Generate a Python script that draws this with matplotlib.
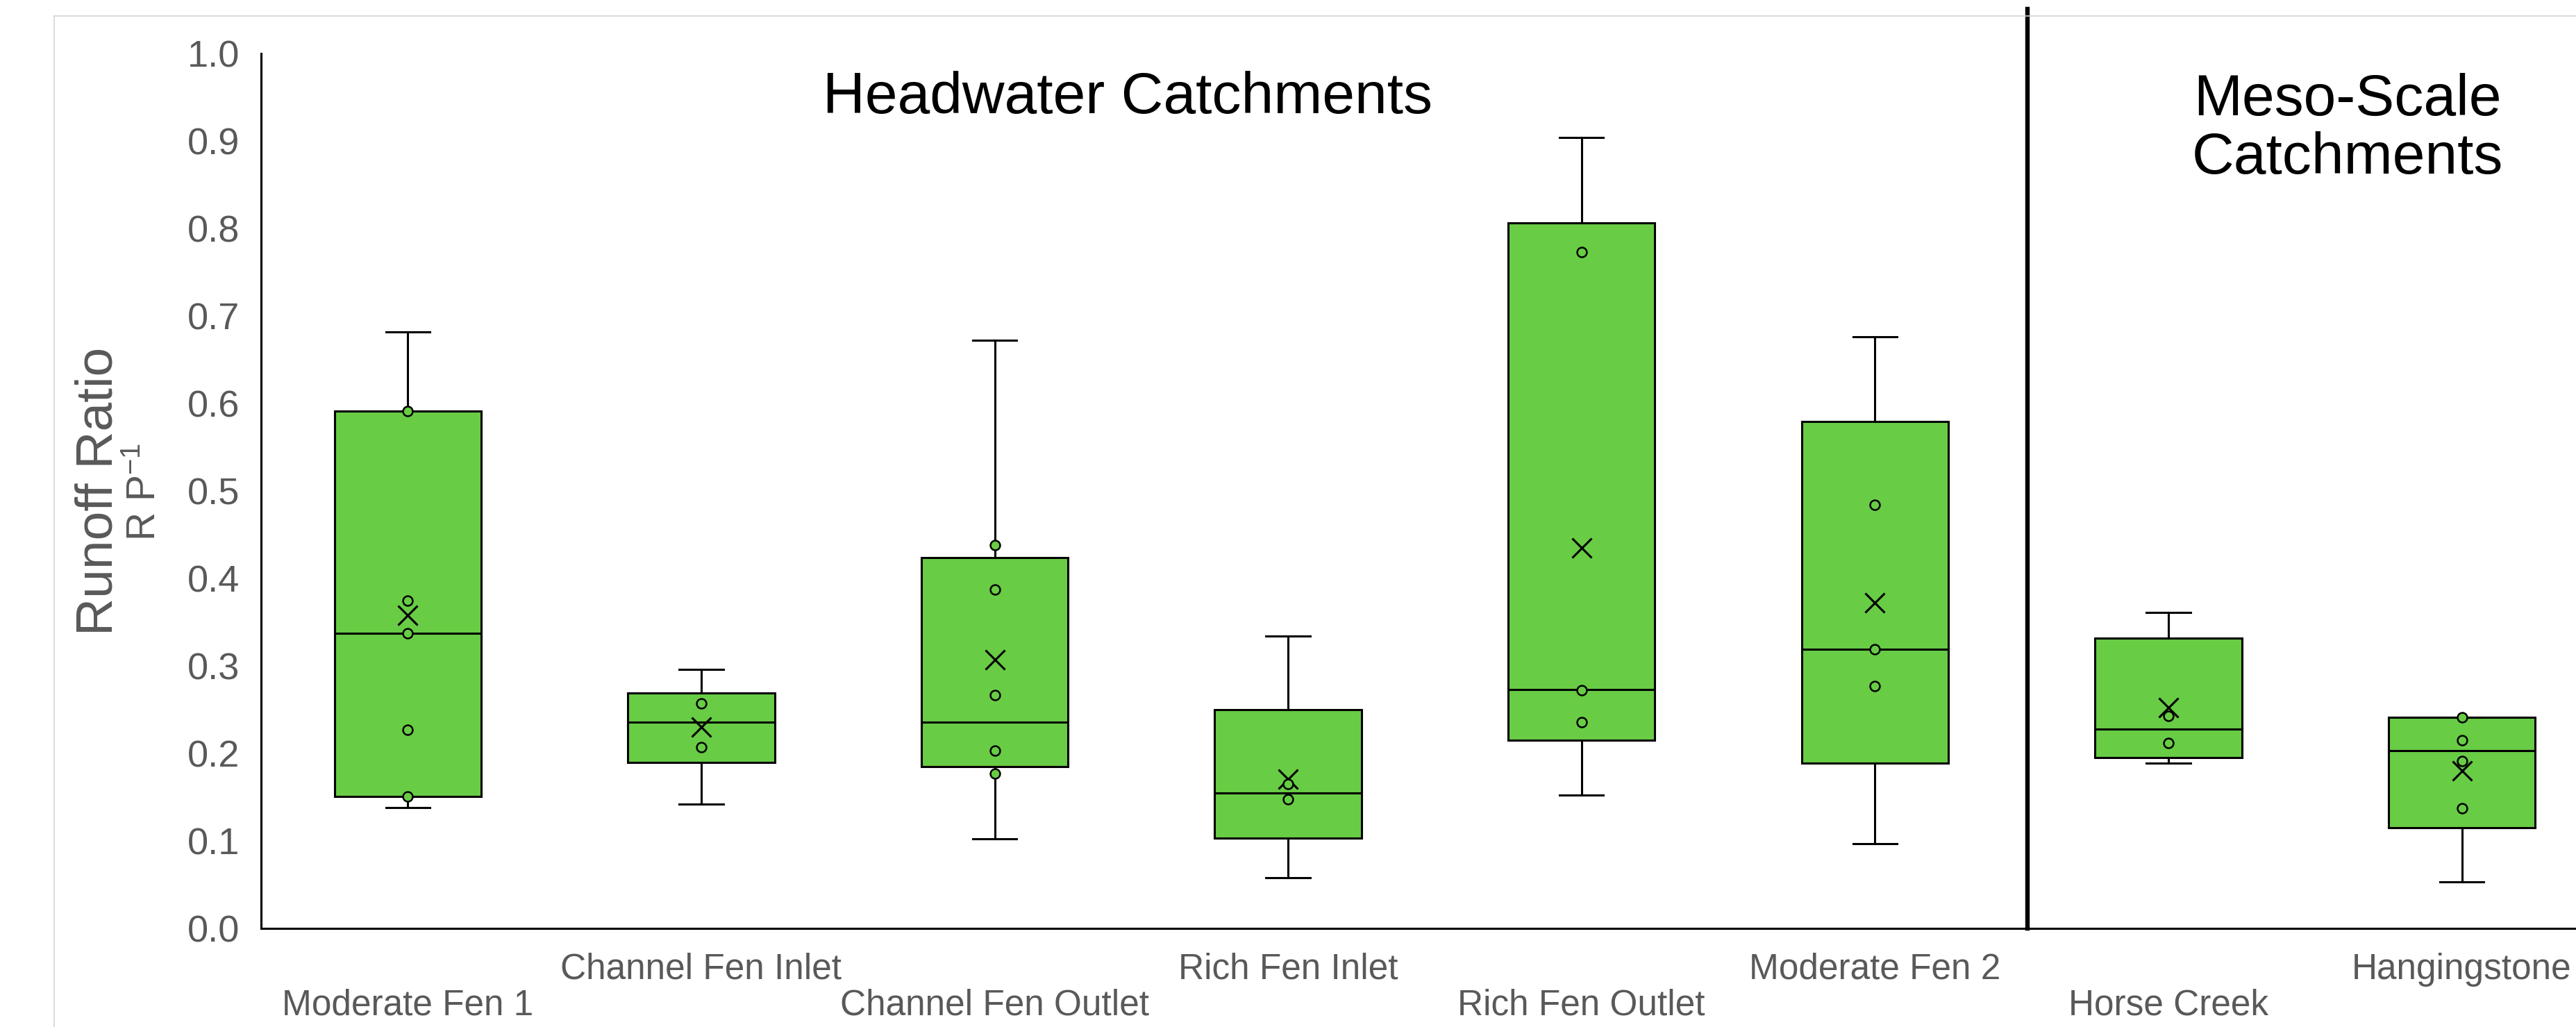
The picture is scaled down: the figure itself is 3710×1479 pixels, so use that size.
#!/usr/bin/env python3
from __future__ import annotations

import matplotlib

matplotlib.use("Agg", force=True)
import matplotlib.pyplot as plt
import numpy as np
from matplotlib.lines import Line2D


CATEGORIES = [
    "Moderate Fen 1",
    "Channel Fen Inlet",
    "Channel Fen Outlet",
    "Rich Fen Inlet",
    "Rich Fen Outlet",
    "Moderate Fen 2",
    "Horse Creek",
    "Hangingstone",
]

# box statistics (runoff ratio, R P^-1)
WHISKER_LO = [0.138, 0.142, 0.102, 0.058, 0.152, 0.097, 0.189, 0.053]
Q1 = [0.151, 0.190, 0.185, 0.103, 0.215, 0.189, 0.195, 0.115]
MEDIAN = [0.337, 0.236, 0.236, 0.155, 0.273, 0.319, 0.228, 0.203]
Q3 = [0.591, 0.269, 0.424, 0.250, 0.806, 0.579, 0.332, 0.241]
WHISKER_HI = [0.682, 0.296, 0.672, 0.334, 0.904, 0.676, 0.361, 0.241]
MEANS = [0.358, 0.230, 0.307, 0.171, 0.435, 0.372, 0.252, 0.180]

# inner points shown on each box
POINTS = [
    [0.591, 0.375, 0.337, 0.227, 0.151],
    [0.257, 0.207],
    [0.438, 0.387, 0.267, 0.203, 0.177],
    [0.165, 0.148],
    [0.773, 0.272, 0.236],
    [0.484, 0.319, 0.277],
    [0.243, 0.212],
    [0.241, 0.215, 0.191, 0.137],
]

Y_TICKS = [0.0, 0.1, 0.2, 0.3, 0.4, 0.5, 0.6, 0.7, 0.8, 0.9, 1.0]
DIVIDER_X = 5.52

GREEN = "#68cc45"
GREY_TEXT = "#595959"
FONT = "Liberation Sans"

W_PX, H_PX = 3710, 1479


def px(x: float, y: float) -> tuple[float, float]:
    # pixel position (from top-left) -> figure fraction
    return x / W_PX, 1 - y / H_PX


def main() -> None:
    plt.rcParams["font.family"] = [FONT, "DejaVu Sans"]
    plt.rcParams["mathtext.fontset"] = "custom"
    plt.rcParams["mathtext.rm"] = FONT
    plt.rcParams["mathtext.default"] = "regular"

    fig = plt.figure(figsize=(W_PX / 100, H_PX / 100), dpi=100)
    fig.patch.set_facecolor("white")

    # axes: y=0 at 1337px, y=1 at 77px, category spacing 422.6px
    left, bottom = px(376, 1337)
    ax = fig.add_axes([left, bottom, 8 * 422.6 / W_PX, (1337 - 77) / H_PX])

    stats = []
    for i in range(len(CATEGORIES)):
        stats.append(
            dict(
                whislo=WHISKER_LO[i],
                q1=Q1[i],
                med=MEDIAN[i],
                q3=Q3[i],
                whishi=WHISKER_HI[i],
                mean=MEANS[i],
                fliers=[],
            )
        )
    pos = np.arange(len(CATEGORIES))
    lw = 2.2
    ax.bxp(
        stats,
        positions=pos,
        widths=0.5,
        capwidths=0.15,
        patch_artist=True,
        showmeans=True,
        showfliers=False,
        boxprops=dict(facecolor=GREEN, edgecolor="black", linewidth=lw),
        medianprops=dict(color="black", linewidth=lw),
        whiskerprops=dict(color="black", linewidth=lw),
        capprops=dict(color="black", linewidth=lw),
        meanprops=dict(marker="x", markersize=20, markeredgecolor="black", markeredgewidth=2.2),
        zorder=2,
    )

    for i, vals in enumerate(POINTS):
        ax.plot(
            [pos[i]] * len(vals),
            vals,
            linestyle="none",
            marker="o",
            markersize=10,
            markerfacecolor=GREEN,
            markeredgecolor="black",
            markeredgewidth=1.8,
            zorder=4,
        )

    ax.set_xlim(-0.5, 7.5)
    ax.set_ylim(0, 1)
    ax.set_yticks(Y_TICKS)
    ax.set_yticklabels([f"{v:.1f}" for v in Y_TICKS])

    # staggered category labels: odd ones on the upper row, even ones below
    ax.set_xticks(pos[1::2], labels=CATEGORIES[1::2])
    ax.set_xticks(pos[0::2], labels=CATEGORIES[0::2], minor=True)
    ax.tick_params(axis="x", which="major", length=0, pad=25, labelsize=37, labelcolor=GREY_TEXT)
    ax.tick_params(axis="x", which="minor", length=0, pad=62, labelsize=37, labelcolor=GREY_TEXT)
    ax.tick_params(axis="y", length=0, pad=22, labelsize=39, labelcolor=GREY_TEXT)

    for side in ("top", "right"):
        ax.spines[side].set_visible(False)
    for side in ("left", "bottom"):
        ax.spines[side].set_linewidth(2.2)
        ax.spines[side].set_color("black")
    ax.set_facecolor("none")

    # divider between headwater and meso-scale catchments
    ax.axvline(DIVIDER_X, ymin=0, ymax=(1337 - 13) / (1337 - 77), color="black", linewidth=4.6, clip_on=False, zorder=5)

    # light chart frame
    fig.add_artist(Line2D([px(78, 0)[0], 1.0], [px(0, 23)[1]] * 2, color="#d4d4d4", linewidth=1.2))
    fig.add_artist(Line2D([px(78, 0)[0]] * 2, [0.0, px(0, 23)[1]], color="#d4d4d4", linewidth=1.2))

    fig.text(*px(1624, 163), "Headwater Catchments", ha="center", va="baseline", fontsize=60.5, color="black")
    fig.text(*px(3381, 166), "Meso-Scale", ha="center", va="baseline", fontsize=60.5, color="black")
    fig.text(*px(3381, 250), "Catchments", ha="center", va="baseline", fontsize=60.5, color="black")

    fig.text(*px(162, 707), "Runoff Ratio", rotation=90, rotation_mode="anchor",
             ha="center", va="baseline", fontsize=54, color=GREY_TEXT)
    fig.text(*px(223, 708), "R P$^{-1}$", rotation=90, rotation_mode="anchor",
             ha="center", va="baseline", fontsize=41, color=GREY_TEXT)

    fig.savefig("out.png", dpi=100, facecolor="white")
    plt.close(fig)


if __name__ == "__main__":
    main()
